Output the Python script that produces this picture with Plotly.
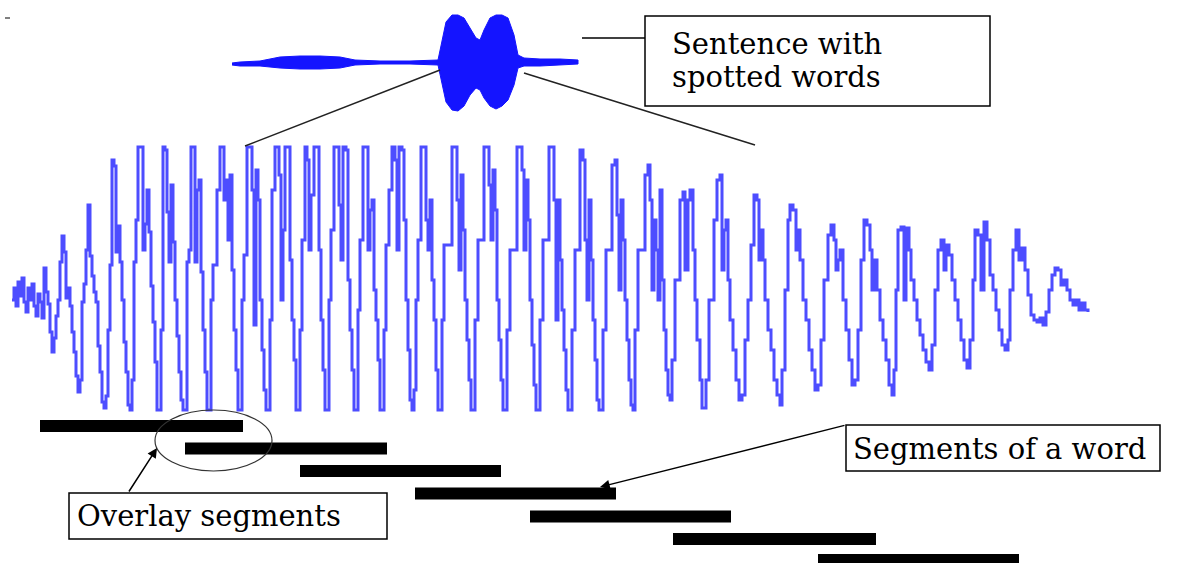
import plotly.graph_objects as go

# Main (zoomed) waveform: hand-read sample positions (x) and levels (y, page px)
wave_x = [12,14,16,18,20,22,24,26,28,30,32,34,36,38,40,42,
          44,46,48,50,52,54,56,58,60,62,64,66,68,70,72,74,76,78,80,82,84,86,88,90,92,94,96,98,100,102,104,106,108,
          110,112,114,116,118,120,122,124,126,128,130,132,134,
          136,138,141,143,145,147,149,151,153,155,157,159,161,
          163,165,167,169,171,173,175,177,179,181,183,185,187,189,
          191,193,195,197,199,201,203,205,207,209,211,213,
          217,220,222,224,226,228,230,232,234,236,238,240,242,244,
          247,250,252,254,256,258,260,262,264,266,268,270,272,
          275,277,279,281,283,285,288,290,292,294,296,298,300,302,
          305,307,309,311,314,317,319,321,323,325,327,329,331,
          334,337,339,341,343,346,348,350,352,354,356,358,360,
          363,366,368,370,372,374,376,378,380,382,384,386,389,
          392,395,397,399,402,404,406,408,410,412,414,416,418,
          421,424,426,428,430,432,434,436,438,440,442,444,
          452,455,457,459,461,463,465,467,469,471,473,475,478,
          484,487,489,491,493,495,497,499,501,503,505,507,510,
          517,520,522,524,526,528,530,532,534,536,538,540,543,
          549,552,554,556,558,560,562,564,566,568,570,572,575,
          580,583,585,587,589,591,593,595,597,599,601,603,606,
          612,615,617,619,621,623,625,627,629,631,633,635,638,
          645,648,650,652,654,656,658,660,662,664,666,668,670,672,675,
          680,683,685,688,690,693,695,697,700,702,704,706,709,
          714,717,720,722,724,726,728,730,733,736,739,742,745,748,
          751,754,757,759,761,763,765,768,771,774,777,780,782,785,
          788,790,793,796,798,800,803,806,809,812,815,818,821,824,
          828,831,834,836,838,840,843,846,849,852,855,858,861,
          864,867,870,872,874,877,880,883,886,889,892,894,896,
          898,901,904,906,909,911,914,917,920,923,926,929,932,935,
          938,941,944,946,949,952,955,958,961,964,967,970,973,
          975,978,981,984,987,990,993,996,999,1002,1005,1008,1010,
          1013,1016,1019,1022,1025,1028,1031,1034,1037,1040,1043,1046,1049,
          1052,1055,1058,1061,1064,1067,1070,1073,1076,1079,1082,1085,1088]
wave_y = [300,288,306,282,296,278,302,312,288,300,284,306,316,294,302,318,
          268,292,304,332,352,338,316,300,262,236,252,298,288,306,332,352,376,392,380,302,284,250,205,256,276,292,302,346,372,402,408,396,330,
          265,160,166,252,226,262,300,342,372,405,410,380,262,
          220,147,147,250,224,190,232,286,322,362,410,410,330,
          147,150,212,262,185,242,300,336,372,400,410,410,262,250,
          147,147,262,190,180,272,330,372,410,410,300,265,
          190,147,147,200,180,240,175,270,330,370,410,410,300,255,
          147,147,190,325,170,200,300,350,390,410,410,320,190,
          147,147,175,300,230,147,147,260,320,360,410,410,330,240,
          147,160,250,195,147,147,250,320,370,410,410,300,230,
          147,147,205,260,147,150,280,330,370,410,410,310,240,
          147,147,250,210,200,290,320,360,410,410,330,245,190,
          147,160,250,147,150,220,300,350,400,410,390,300,240,
          147,147,220,250,200,280,320,370,410,410,320,245,
          147,147,200,270,175,230,300,340,380,410,410,320,240,
          147,147,185,240,170,210,300,340,380,410,410,330,250,
          147,147,170,250,180,220,300,345,385,410,410,320,240,
          147,147,200,320,200,260,310,350,390,410,410,330,250,
          150,160,240,300,200,260,320,360,400,410,410,330,250,
          165,160,215,290,200,240,300,340,380,405,410,330,250,
          175,165,200,290,220,250,300,190,280,330,370,395,400,360,280,
          200,192,270,200,190,250,300,340,380,408,408,380,300,
          220,180,175,270,230,220,280,320,350,380,400,395,340,300,
          245,195,200,260,230,260,300,330,350,380,395,405,370,290,
          220,205,210,250,230,260,300,320,350,370,390,385,340,280,
          235,225,240,270,260,250,300,330,360,385,380,330,260,
          220,225,250,290,260,290,320,340,360,385,395,370,290,
          230,227,300,228,250,280,300,320,335,350,362,370,345,290,
          250,240,270,245,255,280,300,320,340,360,368,340,280,
          230,235,290,222,240,275,290,310,330,345,350,340,290,
          250,230,260,248,270,295,315,320,322,318,325,312,290,
          275,268,270,285,280,290,300,305,300,310,303,310,312]

# Overview (sentence) waveform envelope, hand-read
env_x   = [232,240,260,280,300,320,340,355,380,410,438,442,446,452,458,464,470,476,480,484,490,496,502,508,514,518,524,540,560,578]
env_top = [63,62,61,57,56,56,57,60,61,61,60,40,22,15,15,18,28,38,40,30,18,15,15,18,35,55,58,59,59,60]
env_bot = [65,66,66,68,69,69,68,65,64,64,65,85,102,110,111,106,95,88,90,98,106,109,106,100,85,68,66,66,65,64]

# Word segments (start, end, row level)
seg_start = [40, 185, 300, 415, 530, 673, 818]
seg_end   = [243, 387, 501, 616, 731, 876, 1019]
seg_level = [426, 448.5, 471, 493.5, 516.5, 539, 560]

labels = ["Sentence with", "spotted words", "Segments of a word", "Overlay segments"]

fig = go.Figure()

# Overview envelope as filled polygon
fig.add_trace(go.Scatter(
    x=env_x + env_x[::-1], y=env_top + env_bot[::-1],
    fill="toself", fillcolor="#1414ff", line=dict(color="#1414ff", width=1),
    mode="lines", hoverinfo="skip"))

# Main waveform
fig.add_trace(go.Scatter(
    x=wave_x, y=wave_y, mode="lines",
    line=dict(color="#4d4dff", width=3, shape="hv"), hoverinfo="skip"))

# Segment bars
for s, e, lv in zip(seg_start, seg_end, seg_level):
    fig.add_trace(go.Scatter(x=[s, e], y=[lv, lv], mode="lines",
                             line=dict(color="black", width=12), hoverinfo="skip"))

shapes = [
    # zoom lines
    dict(type="line", x0=440, y0=70, x1=245, y1=146, line=dict(color="#222", width=1.5)),
    dict(type="line", x0=524, y0=73, x1=755, y1=145, line=dict(color="#222", width=1.5)),
    dict(type="line", x0=582, y0=38, x1=645, y1=38, line=dict(color="black", width=1.5)),
    dict(type="line", x0=5, y0=18, x1=10, y1=18, line=dict(color="black", width=1)),
    # boxes
    dict(type="rect", x0=645, y0=16, x1=990, y1=106, line=dict(color="black", width=1.5)),
    dict(type="rect", x0=846, y0=425, x1=1160, y1=471, line=dict(color="black", width=1.5)),
    dict(type="rect", x0=69, y0=493, x1=387, y1=539, line=dict(color="black", width=1.5)),
    # ellipse
    dict(type="circle", x0=155, y0=410, x1=272, y1=471, line=dict(color="#333", width=1.2)),
]

font = dict(family="DejaVu Serif", size=29, color="black")
annotations = [
    dict(x=670, y=44, text=labels[0], xanchor="left", yanchor="middle", showarrow=False, font=font),
    dict(x=670, y=77, text=labels[1], xanchor="left", yanchor="middle", showarrow=False, font=font),
    dict(x=851, y=449, text=labels[2], xanchor="left", yanchor="middle", showarrow=False, font=font),
    dict(x=75, y=516, text=labels[3], xanchor="left", yanchor="middle", showarrow=False, font=font),
    # arrows
    dict(x=157, y=448, ax=128, ay=493, xref="x", yref="y", axref="x", ayref="y", text="",
         showarrow=True, arrowhead=2, arrowsize=1.3, arrowwidth=1.5, arrowcolor="black"),
    dict(x=600, y=487, ax=846, ay=425, xref="x", yref="y", axref="x", ayref="y", text="",
         showarrow=True, arrowhead=2, arrowsize=1.3, arrowwidth=1.5, arrowcolor="black"),
]

fig.update_layout(
    width=1178, height=563, margin=dict(l=0, r=0, t=0, b=0),
    paper_bgcolor="white", plot_bgcolor="white", showlegend=False,
    xaxis=dict(range=[0, 1178], visible=False, fixedrange=True),
    yaxis=dict(range=[563, 0], visible=False, fixedrange=True),
    shapes=shapes, annotations=annotations)

fig.write_html("out.html", config={"displayModeBar": False},
               post_script="document.body.style.margin='0';document.body.style.overflow='hidden';")
